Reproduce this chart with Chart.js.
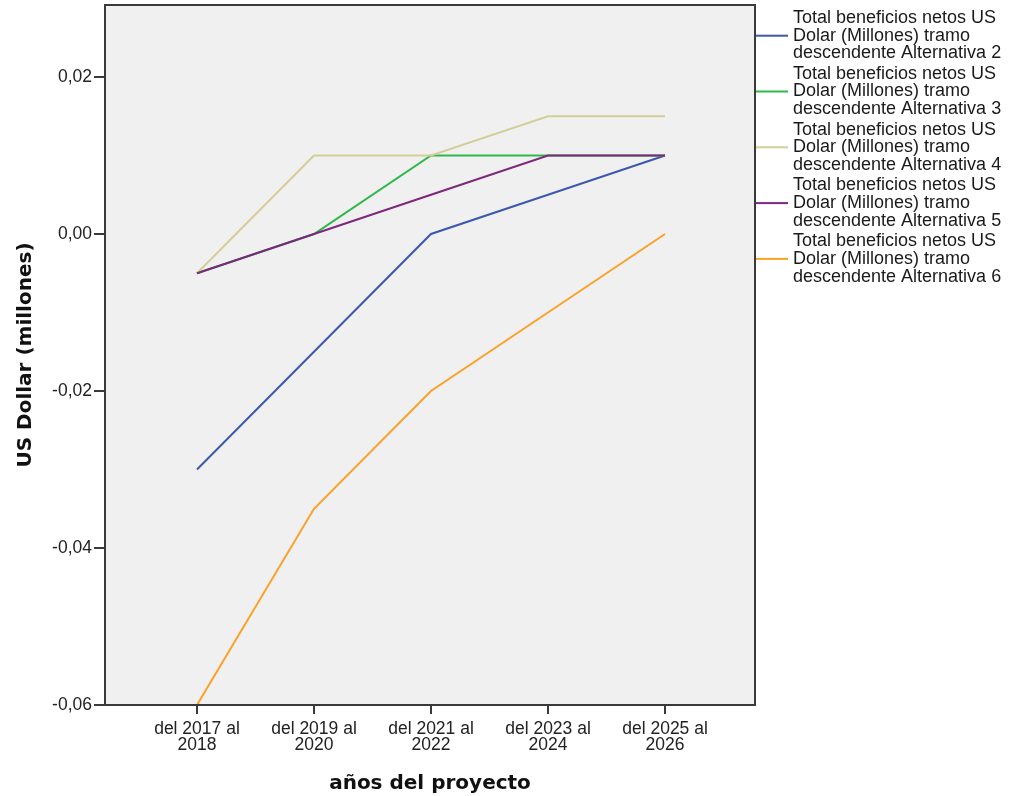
<!DOCTYPE html>
<html>
<head>
<meta charset="utf-8">
<script src="https://cdn.jsdelivr.net/npm/chart.js@4/dist/chart.umd.min.js"></script>
<style>
  html, body { margin: 0; padding: 0; background: #ffffff; }
  #wrap { width: 1010px; height: 796px; position: relative; }
</style>
</head>
<body>
<div id="wrap"><canvas id="c" width="1010" height="796"></canvas></div>
<script>
// ---- data ----
const categories = [
  ["del 2017 al", "2018"],
  ["del 2019 al", "2020"],
  ["del 2021 al", "2022"],
  ["del 2023 al", "2024"],
  ["del 2025 al", "2026"]
];
const seriesNames = [
  ["Total beneficios netos US", "Dolar (Millones) tramo", "descendente Alternativa 2"],
  ["Total beneficios netos US", "Dolar (Millones) tramo", "descendente Alternativa 3"],
  ["Total beneficios netos US", "Dolar (Millones) tramo", "descendente Alternativa 4"],
  ["Total beneficios netos US", "Dolar (Millones) tramo", "descendente Alternativa 5"],
  ["Total beneficios netos US", "Dolar (Millones) tramo", "descendente Alternativa 6"]
];
const alt2 = [-0.03, -0.015, 0.0, 0.005, 0.01];
const alt3 = [-0.005, 0.0, 0.01, 0.01, 0.01];
const alt4 = [-0.005, 0.01, 0.01, 0.015, 0.015];
const alt5 = [-0.005, 0.0, 0.005, 0.01, 0.01];
const alt6 = [-0.06, -0.035, -0.02, -0.01, 0.0];
const seriesValues = [alt2, alt3, alt4, alt5, alt6];
const seriesColors = ["#3E58AC", "#2EB848", "#D3CE97", "#7C287D", "#FBA128"];
const yTicks = [-0.06, -0.04, -0.02, 0.0, 0.02];
const yTitle = "US Dollar (millones)";
const xTitle = "años del proyecto";

const FONT = "'Liberation Sans', Arial, sans-serif";

const datasets = seriesValues.map((vals, i) => ({
  label: seriesNames[i].join(" "),
  data: vals.map((v, j) => ({ x: j, y: v })),
  borderColor: seriesColors[i],
  backgroundColor: seriesColors[i],
  borderWidth: 2,
  pointRadius: 0,
  pointHoverRadius: 0,
  fill: false,
  tension: 0,
  order: seriesValues.length - i
}));

const frame = {
  id: 'frame',
  beforeDraw(chart) {
    const a = chart.chartArea, ctx = chart.ctx;
    ctx.save();
    ctx.fillStyle = '#F0F0F0';
    ctx.fillRect(a.left, a.top, a.right - a.left, a.bottom - a.top);
    ctx.restore();
  },
  afterDraw(chart) {
    const a = chart.chartArea, ctx = chart.ctx;
    ctx.save();
    ctx.strokeStyle = '#3a3a3a';
    ctx.lineWidth = 2;
    ctx.strokeRect(a.left, a.top, a.right - a.left, a.bottom - a.top);
    // legend
    ctx.font = "18px " + FONT;
    ctx.textBaseline = 'middle';
    ctx.textAlign = 'left';
    seriesNames.forEach((lines, i) => {
      const y0 = 18 + i * 55.8;
      ctx.strokeStyle = seriesColors[i];
      ctx.lineWidth = 2;
      ctx.beginPath();
      ctx.moveTo(a.right + 1, y0 + 17.7);
      ctx.lineTo(a.right + 33, y0 + 17.7);
      ctx.stroke();
      ctx.fillStyle = '#1a1a1a';
      lines.forEach((t, k) => ctx.fillText(t, a.right + 38, y0 + k * 17.7));
    });
    ctx.restore();
  }
};

new Chart(document.getElementById('c'), {
  type: 'line',
  data: { datasets },
  plugins: [frame],
  options: {
    responsive: false,
    animation: false,
    layout: { padding: { top: 5, right: 255, bottom: 0, left: 0 } },
    plugins: { legend: { display: false }, tooltip: { enabled: false } },
    scales: {
      x: {
        type: 'linear',
        min: -0.786,
        max: 4.769,
        afterBuildTicks: (s) => { s.ticks = categories.map((c, i) => ({ value: i })); },
        afterFit: (s) => { s.height = 91; s.paddingLeft = 0; s.paddingRight = 0; },
        ticks: {
          callback: (v) => categories[v] || '',
          font: { family: FONT, size: 17.5, lineHeight: '16px' },
          color: '#222222',
          padding: 7,
          maxRotation: 0,
          autoSkip: false
        },
        grid: { display: true, drawOnChartArea: false, drawTicks: true, tickLength: 9, color: '#3a3a3a', lineWidth: 2 },
        border: { display: false },
        title: {
          display: true,
          text: xTitle,
          font: { family: "'DejaVu Sans', sans-serif", size: 20, weight: 'bold' },
          color: '#111111',
          padding: { top: 0, bottom: 0 }
        }
      },
      y: {
        type: 'linear',
        min: -0.06,
        max: 0.02917,
        afterBuildTicks: (s) => { s.ticks = yTicks.map(v => ({ value: v })); },
        afterFit: (s) => { s.width = 105; s.paddingTop = 0; s.paddingBottom = 0; },
        ticks: {
          callback: (v) => v.toFixed(2).replace('.', ',').replace('-0,00', '0,00'),
          font: { family: FONT, size: 17.5 },
          color: '#222222',
          padding: 2
        },
        grid: { display: true, drawOnChartArea: false, drawTicks: true, tickLength: 11, color: '#3a3a3a', lineWidth: 2 },
        border: { display: false },
        title: {
          display: true,
          text: yTitle,
          font: { family: "'DejaVu Sans', sans-serif", size: 20, weight: 'bold' },
          color: '#111111',
          padding: { top: 14, bottom: 0 }
        }
      }
    }
  }
});
</script>
</body>
</html>
